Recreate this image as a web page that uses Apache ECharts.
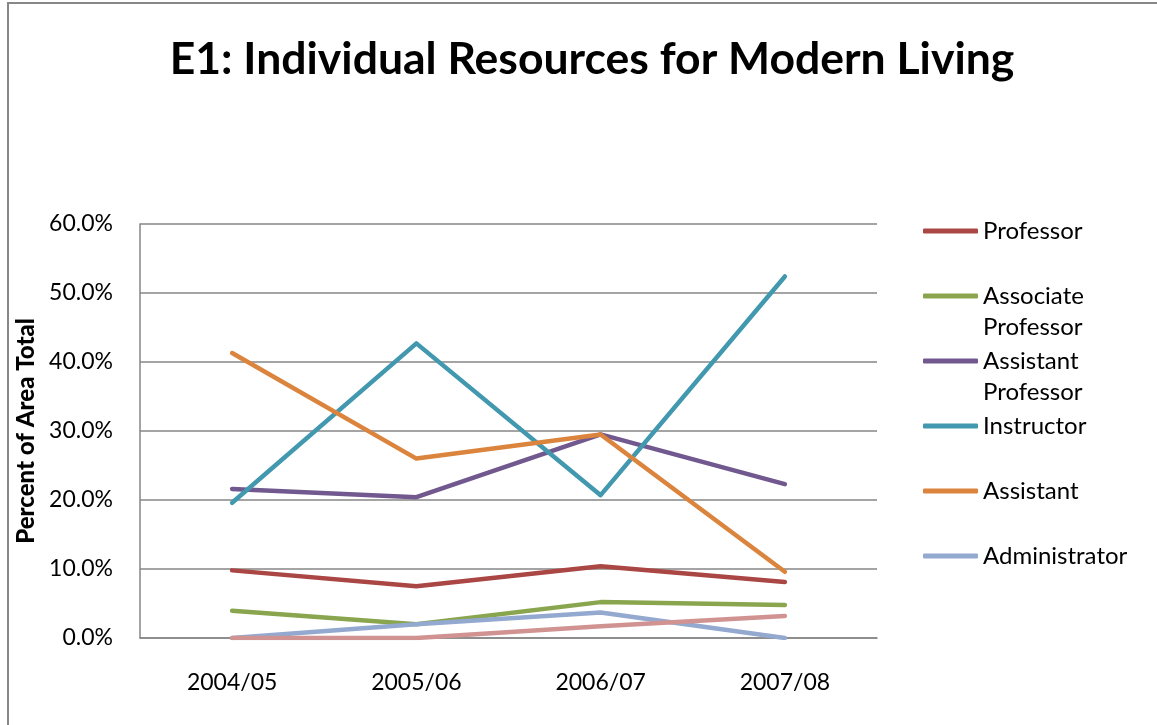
<!DOCTYPE html>
<html>
<head>
<meta charset="utf-8">
<script src="https://cdn.jsdelivr.net/npm/echarts@6/dist/echarts.min.js"></script>
<style>
  html, body { margin: 0; padding: 0; background: #ffffff; }
  #chart { width: 1157px; height: 725px; }
</style>
</head>
<body>
<div id="chart"></div>
<script>
// Staff share per academic year, in percent of the area total
const years = ['2004/05', '2005/06', '2006/07', '2007/08'];
const professor          = [9.8, 7.5, 10.4, 8.1];
const associateProfessor = [3.95, 2.0, 5.2, 4.8];
const assistantProfessor = [21.6, 20.4, 29.5, 22.3];
const instructor         = [19.6, 42.7, 20.7, 52.4];
const assistant          = [41.3, 26.0, 29.5, 9.6];
const administrator      = [0, 2.0, 3.7, 0];
const other              = [0, 0, 1.7, 3.2];

const yTicks = { min: 0, max: 60, interval: 10 };

const FONT = 'Lato, "Noto Sans", sans-serif';

const seriesDefs = [
  { name: 'Professor', data: professor, color: '#AA4643', label: 'Professor', y: 231 },
  { name: 'Associate Professor', data: associateProfessor, color: '#89A54E', label: 'Associate\nProfessor', y: 296 },
  { name: 'Assistant Professor', data: assistantProfessor, color: '#71588F', label: 'Assistant\nProfessor', y: 361 },
  { name: 'Instructor', data: instructor, color: '#4198AF', label: 'Instructor', y: 426 },
  { name: 'Assistant', data: assistant, color: '#DB843D', label: 'Assistant', y: 491 },
  { name: 'Administrator', data: administrator, color: '#93A9CF', label: 'Administrator', y: 556 },
  { name: 'Other', data: other, color: '#D19392', label: null }
];

const LINE_H = 31;
const ICON_H = 5;

// one legend block per entry so every icon sits on its own row;
// a wrapped label gets an empty leading line so its first line stays level with the icon
const legends = seriesDefs.filter(d => d.label).map(d => {
  const twoLines = d.label.indexOf('\n') >= 0;
  const text = twoLines ? '\n' + d.label : d.label;
  const blockH = twoLines ? LINE_H * 3 : LINE_H;
  return {
    data: [d.name],
    left: 923,
    top: d.y - blockH / 2,
    orient: 'vertical',
    padding: 0,
    icon: 'roundRect',
    itemWidth: 55,
    itemHeight: ICON_H,
    selectedMode: false,
    formatter: () => text,
    textStyle: {
      fontFamily: FONT,
      fontSize: 24,
      color: '#000000',
      lineHeight: LINE_H
    }
  };
});

const chart = echarts.init(document.getElementById('chart'), null, { renderer: 'canvas' });

chart.setOption({
  backgroundColor: '#ffffff',
  animation: false,
  title: {
    text: 'E1: Individual Resources for Modern Living',
    left: 587,
    top: 32,
    textAlign: 'center',
    textStyle: { fontFamily: FONT, fontSize: 44.5, fontWeight: 'bold', color: '#000000' }
  },
  legend: legends,
  grid: { left: 140, right: 280, top: 224, bottom: 87 },
  xAxis: {
    type: 'category',
    data: years,
    boundaryGap: true,
    axisLine: { lineStyle: { color: '#868686', width: 1.5 } },
    axisTick: { show: false },
    axisLabel: { fontFamily: FONT, fontSize: 23, color: '#000000', margin: 33 }
  },
  yAxis: {
    type: 'value',
    min: yTicks.min,
    max: yTicks.max,
    interval: yTicks.interval,
    name: 'Percent of Area Total',
    nameLocation: 'middle',
    nameGap: 102,
    nameTextStyle: { fontFamily: FONT, fontSize: 24, fontWeight: 900, color: '#000000' },
    axisLine: { show: true, lineStyle: { color: '#868686', width: 1.5 } },
    axisTick: { show: false },
    splitLine: { lineStyle: { color: '#868686', width: 1.5 } },
    axisLabel: {
      fontFamily: FONT, fontSize: 23, color: '#000000', margin: 27,
      formatter: v => v.toFixed(1) + '%'
    }
  },
  series: seriesDefs.map(d => ({
    name: d.name,
    type: 'line',
    data: d.data,
    symbol: 'none',
    color: d.color,
    lineStyle: { width: 4.5, color: d.color, cap: 'round', join: 'round' }
  })),
  graphic: [{
    type: 'rect',
    shape: { x: 8, y: 3, width: 1160, height: 740 },
    style: { fill: 'none', stroke: '#878787', lineWidth: 2 },
    silent: true
  }]
});
</script>
</body>
</html>
